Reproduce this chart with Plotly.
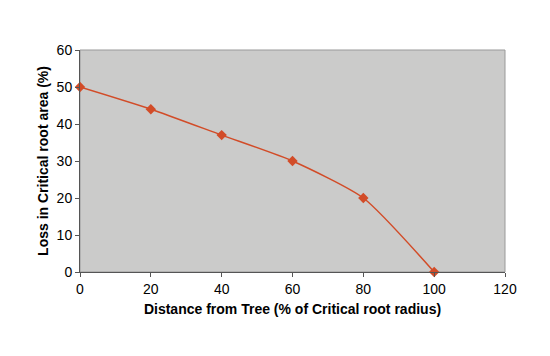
import plotly.graph_objects as go

distance = [0, 20, 40, 60, 80, 100]
loss = [50, 44, 37, 30, 20, 0]
x_ticks = [0, 20, 40, 60, 80, 100, 120]
y_ticks = [0, 10, 20, 30, 40, 50, 60]

fig = go.Figure()
fig.add_trace(go.Scatter(
    x=distance, y=loss, mode="lines+markers",
    line=dict(color="#d24c28", width=1.5, shape="spline", smoothing=0.6),
    marker=dict(symbol="diamond", size=8, color="#d24c28"),
    cliponaxis=False, showlegend=False,
))

fam = "Liberation Sans, Arial, sans-serif"
tick_font = dict(family=fam, size=14, color="#000")
title_font = dict(family=fam, size=14, color="#000")
fig.update_layout(
    width=550, height=356,
    margin=dict(l=72, r=53, t=42, b=92),
    paper_bgcolor="white", plot_bgcolor="#cbcbca",
    font=tick_font,
    xaxis=dict(range=[0, 120], tickvals=x_ticks, showgrid=False, zeroline=False,
               ticks="outside", ticklen=4, tickcolor="#555", showline=True,
               linecolor="#555", linewidth=1, automargin=False, tickfont=tick_font,
               title=dict(text="<b>Distance from Tree (% of Critical root radius)</b>", font=title_font, standoff=8)),
    yaxis=dict(range=[0, 60], tickvals=y_ticks, showgrid=False, zeroline=False,
               ticks="outside", ticklen=4, tickcolor="#555", showline=True,
               linecolor="#555", linewidth=1, automargin=False, tickfont=tick_font,
               title=dict(text="<b>Loss in Critical root area (%)</b>", font=title_font, standoff=4)),
    shapes=[dict(type="rect", xref="paper", yref="paper", x0=0, y0=0, x1=1, y1=1,
                 line=dict(color="#999", width=1), fillcolor="rgba(0,0,0,0)", layer="below")],
)
fig.write_html("out.html")
